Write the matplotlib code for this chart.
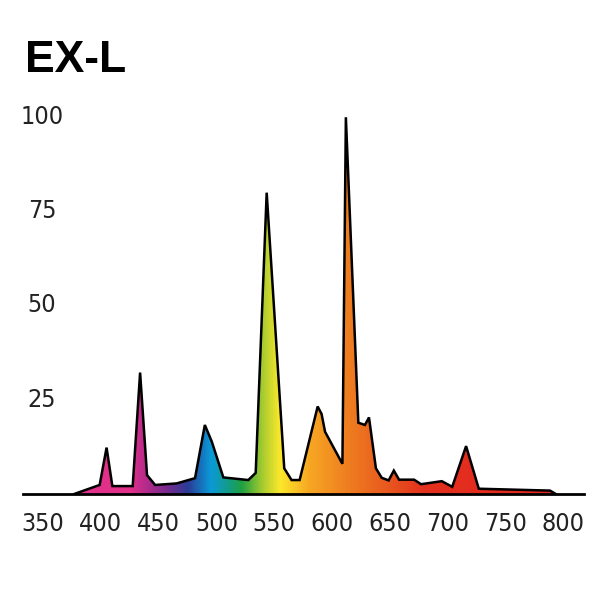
import numpy as np
import matplotlib
matplotlib.use("Agg")
import matplotlib.pyplot as plt
import matplotlib.transforms as mtrans
from matplotlib.colors import LinearSegmentedColormap
from matplotlib.patches import Polygon
from matplotlib import font_manager as fm

# Spectrum data (wavelength nm, relative intensity)
wavelength = [377, 399, 405, 410, 427.6, 434, 440, 447, 465.6, 481.5, 490, 496, 506,
              527.6, 534, 543.5, 558.7, 565, 572, 587.6, 591, 594, 609, 612, 622.8,
              628.5, 632, 638, 643, 649, 653.5, 658, 671, 677, 695, 704, 716, 727,
              788.6, 793.6]
intensity = [0, 2.4, 12.3, 2.1, 2.1, 32.2, 5, 2.4, 2.8, 4.2, 18.3, 13.9, 4.4,
             3.7, 5.6, 79.9, 6.8, 3.7, 3.7, 23.2, 21.2, 16.5, 8, 99.9, 18.9,
             18.3, 20.3, 6.8, 4.3, 3.6, 6.2, 3.8, 3.8, 2.6, 3.4, 1.9, 12.7, 1.4,
             0.9, 0]

x_ticks = [350, 400, 450, 500, 550, 600, 650, 700, 750, 800]
y_ticks = [25, 50, 75, 100]
title = "EX-L"

xmin, xmax = 332.7, 818

# colour anchors along wavelength
color_nm = [xmin, 425, 440, 460, 475, 495, 510, 522, 540, 555, 580, 612, 650, 680, xmax]
color_hex = ["#e6338c", "#e0308a", "#b02a8a", "#6a2c8e", "#2a3c96", "#0a9ad8",
             "#139c88", "#1fa040", "#a8cc30", "#fce82a", "#f7a823", "#ef8021",
             "#e8561e", "#e4301e", "#e32520"]

cmap = LinearSegmentedColormap.from_list(
    "spec", [((n - xmin) / (xmax - xmin), c) for n, c in zip(color_nm, color_hex)])

# pick a condensed font file if present
cond_path = None
for f in fm.findSystemFonts():
    name = f.split("/")[-1]
    if name == "DejaVuSansCondensed.ttf":
        cond_path = f
    if name in ("LiberationSansNarrow-Regular.ttf",):
        cond_path = f
        break
tick_fp = fm.FontProperties(fname=cond_path, size=18) if cond_path else fm.FontProperties(family="DejaVu Sans", size=17)

fig = plt.figure(figsize=(6, 6), dpi=100)
ax = fig.add_axes([23 / 600, 1 - 494 / 600, (584 - 23) / 600, (494 - 98) / 600])
ax.set_xlim(xmin, xmax)
ax.set_ylim(0, 105)

grad = np.linspace(0, 1, 512).reshape(1, -1)
im = ax.imshow(grad, extent=[xmin, xmax, 0, 105], aspect="auto", cmap=cmap,
               origin="lower", zorder=1)
verts = list(zip(wavelength, intensity))
poly = Polygon(verts, closed=True, facecolor="none", edgecolor="none")
ax.add_patch(poly)
im.set_clip_path(poly)
ax.plot(wavelength, intensity, color="black", lw=1.8, zorder=3, solid_joinstyle="miter")

for s in ["top", "right", "left"]:
    ax.spines[s].set_visible(False)
ax.spines["bottom"].set_linewidth(2.0)
ax.spines["bottom"].set_zorder(4)
ax.set_yticks([])
ax.set_xticks(x_ticks)
ax.tick_params(axis="x", length=0, pad=13)
ax.set_xticklabels([str(t) for t in x_ticks], fontproperties=tick_fp, color="#222222")

tr = mtrans.blended_transform_factory(fig.transFigure, ax.transData)
for v in y_ticks:
    ax.text(42 / 600, v, str(v), transform=tr, ha="center", va="center",
            fontproperties=tick_fp, color="#222222")

fig.text(25 / 600, 1 - 61 / 600, title, fontsize=32, fontweight="bold",
         family=["Liberation Sans", "DejaVu Sans"], ha="left", va="center")

fig.savefig("out.png", dpi=100)
